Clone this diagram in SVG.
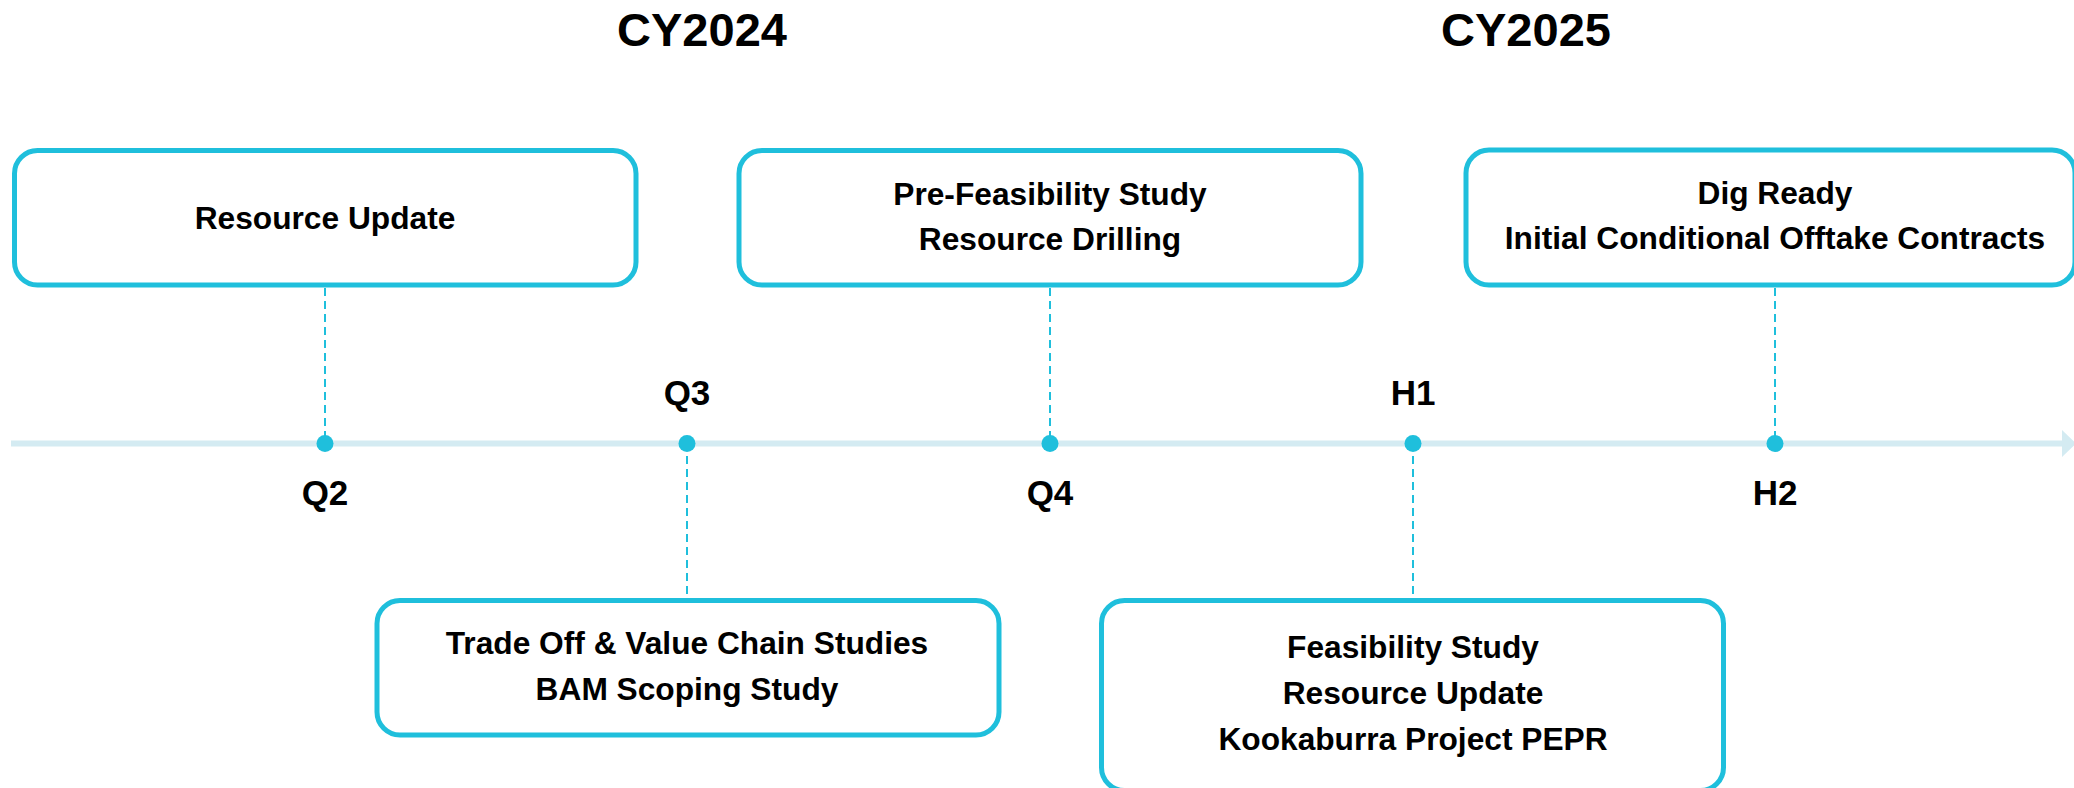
<svg xmlns="http://www.w3.org/2000/svg" width="2074" height="788" viewBox="0 0 2074 788">
<style>
.box{fill:#ffffff;stroke:#1fbfdc;stroke-width:5}
.t{font-family:"Liberation Sans",Arial,sans-serif;font-weight:bold;font-size:31.7px;fill:#000;text-anchor:middle}
.lbl{font-family:"Liberation Sans",Arial,sans-serif;font-weight:bold;font-size:35px;fill:#000;text-anchor:middle}
.yr{font-family:"Liberation Sans",Arial,sans-serif;font-weight:bold;font-size:47px;fill:#000;text-anchor:middle}
.dash{stroke:#1fbfdc;stroke-width:2;stroke-dasharray:8 5;fill:none}
.dot{fill:#1fbfdc}
</style>
<rect width="2074" height="788" fill="#ffffff"/>
<g id="years">
<text class="yr" x="702" y="46">CY2024</text>
<text class="yr" x="1526" y="46">CY2025</text>
</g>
<g id="timeline">
<line x1="11" y1="443.5" x2="2064" y2="443.5" stroke="#d4ebf2" stroke-width="6"/>
<polygon points="2062,430 2076,443.5 2062,457" fill="#d4ebf2"/>
</g>
<g id="connectors">
<line class="dash" x1="325" y1="288" x2="325" y2="443"/>
<line class="dash" x1="1050" y1="288" x2="1050" y2="443"/>
<line class="dash" x1="1775" y1="288" x2="1775" y2="443"/>
<line class="dash" x1="687" y1="443" x2="687" y2="598"/>
<line class="dash" x1="1413" y1="443" x2="1413" y2="598"/>
</g>
<g id="milestones">
<circle class="dot" cx="325" cy="443.5" r="8.5"/>
<circle class="dot" cx="687" cy="443.5" r="8.5"/>
<circle class="dot" cx="1050" cy="443.5" r="8.5"/>
<circle class="dot" cx="1413" cy="443.5" r="8.5"/>
<circle class="dot" cx="1775" cy="443.5" r="8.5"/>
<text class="lbl" x="325" y="505">Q2</text>
<text class="lbl" x="687" y="405">Q3</text>
<text class="lbl" x="1050" y="505">Q4</text>
<text class="lbl" x="1413" y="405">H1</text>
<text class="lbl" x="1775" y="505">H2</text>
</g>
<g id="node-resource-update">
<rect class="box" x="14.5" y="150.5" width="621.5" height="134.5" rx="23"/>
<text class="t" x="325" y="229">Resource Update</text>
</g>
<g id="node-pfs">
<rect class="box" x="739" y="150.5" width="622" height="134.5" rx="23"/>
<text class="t" x="1050" y="205">Pre-Feasibility Study</text>
<text class="t" x="1050" y="250">Resource Drilling</text>
</g>
<g id="node-dig-ready">
<rect class="box" x="1466" y="150" width="609" height="135" rx="23"/>
<text class="t" x="1775" y="204">Dig Ready</text>
<text class="t" x="1775" y="249">Initial Conditional Offtake Contracts</text>
</g>
<g id="node-trade-off">
<rect class="box" x="377" y="600.5" width="622" height="134.5" rx="23"/>
<text class="t" x="687" y="654">Trade Off &amp; Value Chain Studies</text>
<text class="t" x="687" y="700">BAM Scoping Study</text>
</g>
<g id="node-feasibility">
<rect class="box" x="1101.5" y="600.5" width="622" height="190" rx="23"/>
<text class="t" x="1413" y="658">Feasibility Study</text>
<text class="t" x="1413" y="704">Resource Update</text>
<text class="t" x="1413" y="750">Kookaburra Project PEPR</text>
</g>
</svg>
